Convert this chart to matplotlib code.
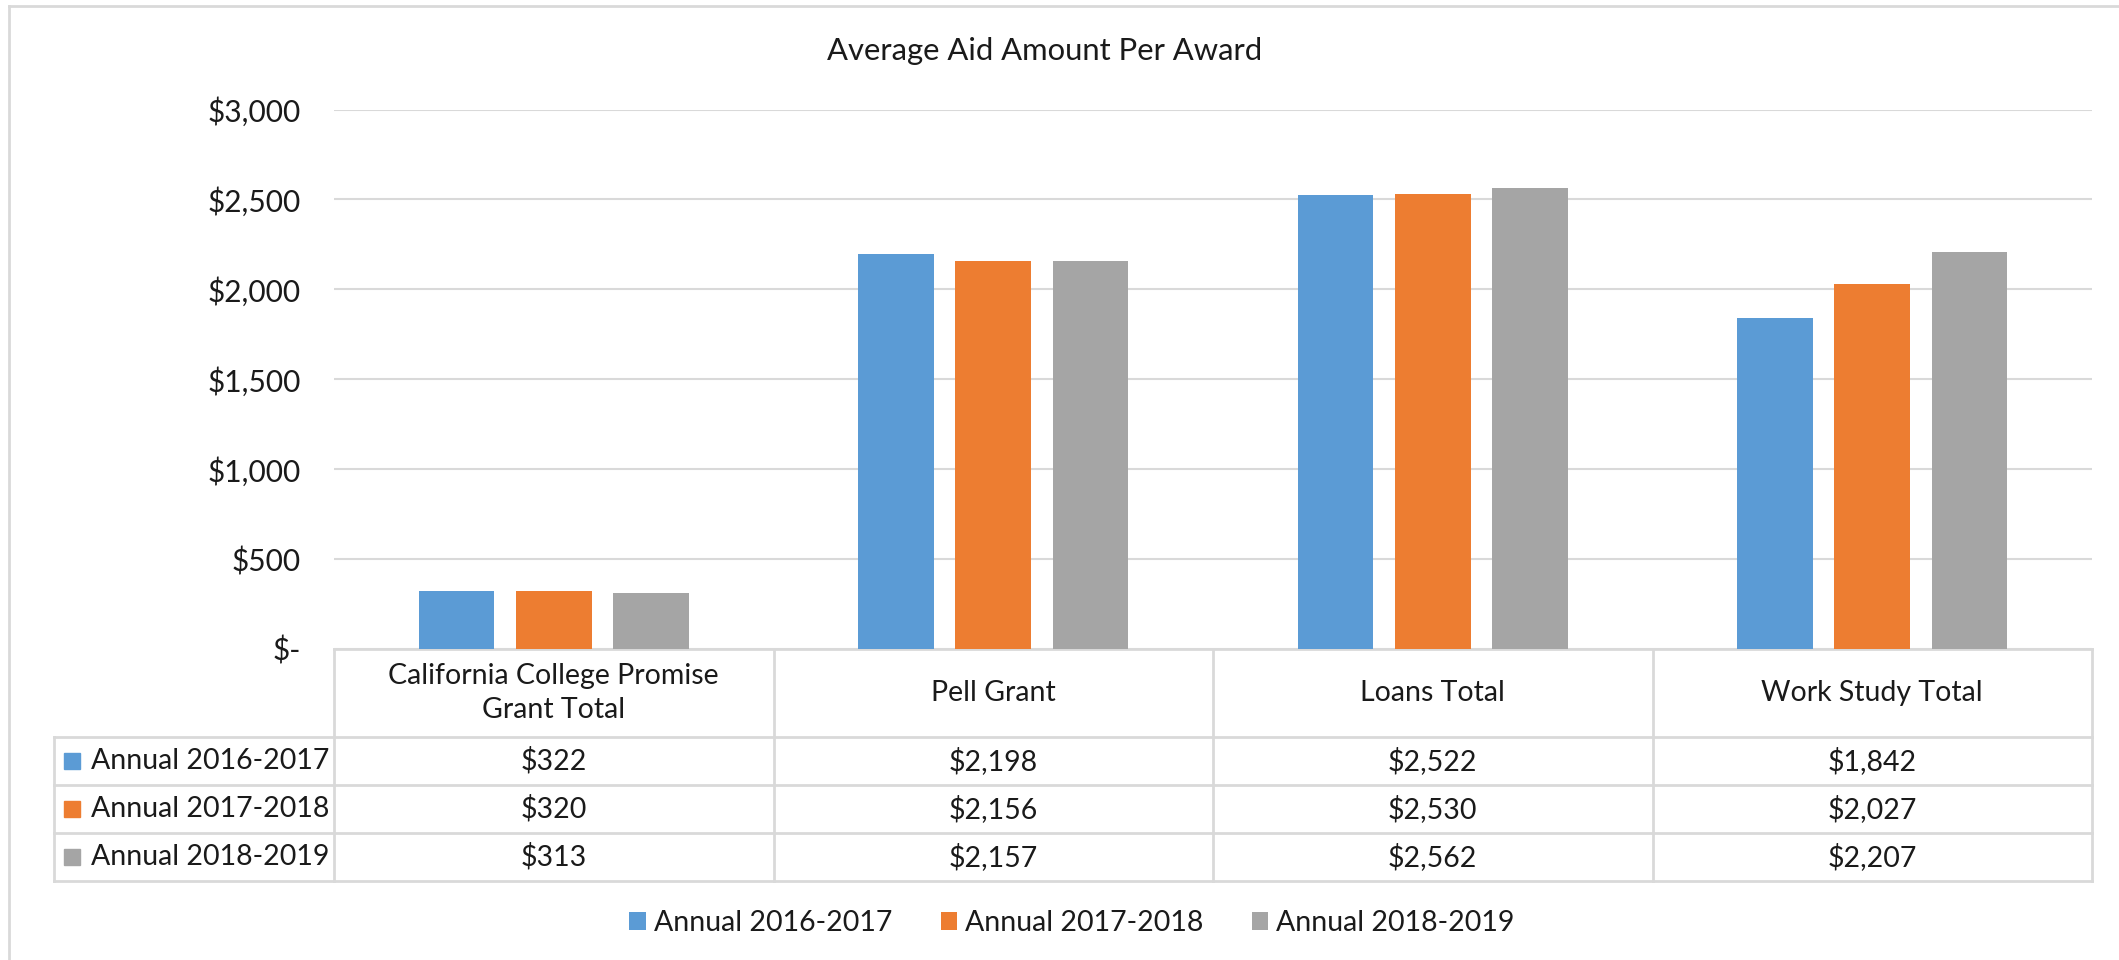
import matplotlib

matplotlib.use("Agg")
import matplotlib.pyplot as plt  # noqa: E402
from matplotlib.patches import Rectangle  # noqa: E402

# data
categories = ["California College Promise\nGrant Total", "Pell Grant", "Loans Total", "Work Study Total"]
series_names = ["Annual 2016-2017", "Annual 2017-2018", "Annual 2018-2019"]
aid_2016_2017 = [322, 2198, 2522, 1842]
aid_2017_2018 = [320, 2156, 2530, 2027]
aid_2018_2019 = [313, 2157, 2562, 2207]
y_ticks = [0, 500, 1000, 1500, 2000, 2500, 3000]

series = [aid_2016_2017, aid_2017_2018, aid_2018_2019]
colors = ["#5B9BD5", "#ED7D31", "#A5A5A5"]
LINE = "#D9D9D9"
TXT = "#1a1a1a"
FONT = ["Lato", "DejaVu Sans"]
FS = 20.5

plt.rcParams["font.family"] = FONT

W, H = 2119, 960
PLOT_L, PLOT_R, PLOT_T, PLOT_B = 334, 2092, 109.5, 649
TABLE_L = 54
ROWS = [649, 737, 785, 833, 881]


def fx(px):
    return px / W


def fy(py):
    return 1 - py / H


def money(v):
    return "$-" if v == 0 else f"${v:,.0f}"


fig = plt.figure(figsize=(W / 100, H / 100), dpi=100)

# bar chart
ax = fig.add_axes([fx(PLOT_L), fy(PLOT_B), fx(PLOT_R) - fx(PLOT_L), fy(PLOT_T) - fy(PLOT_B)])
offsets = [-0.2215, 0.0, 0.2215]
for vals, off, col, name in zip(series, offsets, colors, series_names):
    ax.bar([i + off for i in range(len(categories))], vals, width=0.172, color=col, label=name, zorder=3)
ax.set_xlim(-0.5, len(categories) - 0.5)
ax.set_ylim(0, 3000)
ax.set_yticks(y_ticks)
ax.set_yticklabels([money(v) for v in y_ticks], fontsize=21.5, color=TXT)
ax.tick_params(axis="y", length=0, pad=24)
ax.set_xticks([])
ax.grid(axis="y", color=LINE, lw=1.5, zorder=0)
for s in ax.spines.values():
    s.set_visible(False)

# overlay in pixel coordinates: frame, title, data table
ov = fig.add_axes([0, 0, 1, 1], zorder=-1)
ov.set_xlim(0, W)
ov.set_ylim(H, 0)
ov.axis("off")

ov.plot([9, W], [6, 6], color=LINE, lw=2)
ov.plot([9, 9], [6, H], color=LINE, lw=2)
ov.text(1045, 51, "Average Aid Amount Per Award", ha="center", va="center", fontsize=22.3, color=TXT)

col_w = (PLOT_R - PLOT_L) / len(categories)
col_edges = [PLOT_L + i * col_w for i in range(len(categories) + 1)]
ov.plot([PLOT_L, PLOT_R], [ROWS[0], ROWS[0]], color=LINE, lw=2)
for y in ROWS[1:]:
    ov.plot([TABLE_L, PLOT_R], [y, y], color=LINE, lw=2)
for x in col_edges:
    ov.plot([x, x], [ROWS[0], ROWS[-1]], color=LINE, lw=2)
ov.plot([TABLE_L, TABLE_L], [ROWS[1], ROWS[-1]], color=LINE, lw=2)

for i, cat in enumerate(categories):
    cx = (col_edges[i] + col_edges[i + 1]) / 2
    ov.text(cx, (ROWS[0] + ROWS[1]) / 2, cat, ha="center", va="center", fontsize=FS,
            color=TXT, linespacing=1.4)

for r, (vals, col, name) in enumerate(zip(series, colors, series_names)):
    cy = (ROWS[r + 1] + ROWS[r + 2]) / 2
    ov.add_patch(Rectangle((64, cy - 8), 16, 16, color=col))
    ov.text(329, cy, name, ha="right", va="center", fontsize=FS, color=TXT)
    for i, v in enumerate(vals):
        cx = (col_edges[i] + col_edges[i + 1]) / 2
        ov.text(cx, cy, money(v), ha="center", va="center", fontsize=FS, color=TXT)

handles, labels = ax.get_legend_handles_labels()
fig.legend(handles, labels, loc="center", bbox_to_anchor=(fx(1072), fy(923)), ncol=3,
           frameon=False, fontsize=FS, handlelength=0.58, handleheight=0.58,
           handletextpad=0.28, columnspacing=1.7, labelcolor=TXT)

fig.savefig("out.png", dpi=100, facecolor="white")
